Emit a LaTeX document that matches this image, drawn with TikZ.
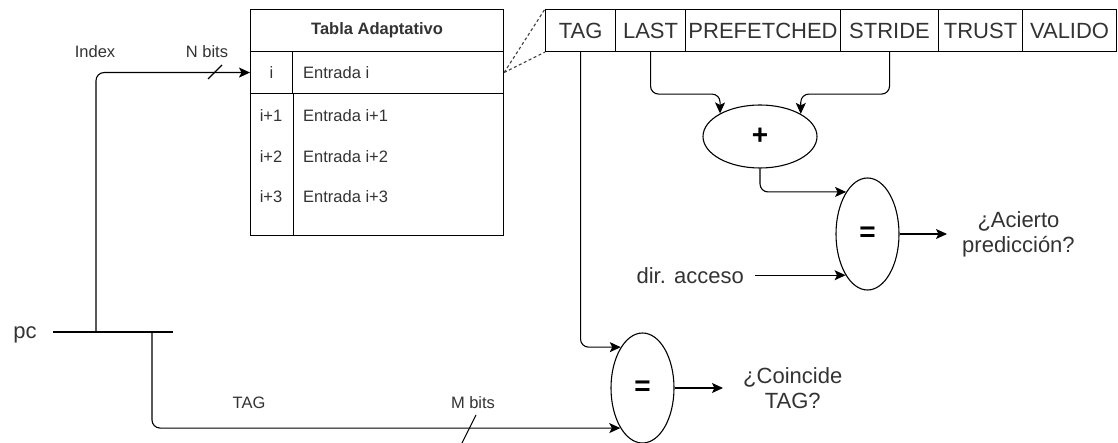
\documentclass[tikz,border=0pt]{standalone}
\usepackage{fontspec}
\setmainfont{Liberation Sans}
\usetikzlibrary{shapes.geometric,arrows.meta,calc}
\definecolor{txt}{HTML}{333333}
\newcommand\bigfont{\fontsize{22}{25}\selectfont}
\newcommand\smallfont{\fontsize{16.5}{19}\selectfont}
\begin{document}
\begin{tikzpicture}[x=1pt,y=-1pt,
  ln/.style={line width=1.1pt,draw=black},
  arr/.style={ln,-{Stealth[length=11pt,width=10pt,inset=2.5pt]}},
  rnd/.style={rounded corners=8pt},
  cell/.style={ln,anchor=north west,inner sep=0pt,minimum height=42pt,text=txt},
  field/.style={cell,font=\bigfont},
  lbl/.style={text=txt,font=\smallfont,inner sep=0pt},
  biglbl/.style={text=txt,font=\bigfont,inner sep=0pt,align=center},
  oper/.style={ellipse,ln,inner sep=0pt,text=black,font=\fontsize{28}{28}\bfseries\selectfont},
  dashline/.style={line width=1.1pt,draw=black!75,dash pattern=on 3pt off 2.5pt}
]
\fill[white] (0,0) rectangle (1118,443);
\useasboundingbox (0,0) rectangle (1118,443);

% ---- Tabla Adaptativo ----
\node[cell,minimum width=253pt,font=\bfseries\smallfont] (hdr) at (250,9) {Tabla Adaptativo};
\node[cell,minimum width=42pt,font=\smallfont] (idxi) at (250,51) {i};
\node[cell,minimum width=211pt] (enti) at (292,51) {};
\node[cell,minimum width=253pt,minimum height=142pt] (body) at (250,93) {};
\draw[ln] (idxi.south east) -- (idxi.south east |- body.south);
\node[lbl,anchor=west] (tenti) at (303,73) {Entrada i};
\node[lbl] (i1) at (271,116) {i+1};
\node[lbl] (i2) at (271,157) {i+2};
\node[lbl] (i3) at (271,197) {i+3};
\node[lbl,anchor=west] (e1) at (303,116) {Entrada i+1};
\node[lbl,anchor=west] (e2) at (303,157) {Entrada i+2};
\node[lbl,anchor=west] (e3) at (303,197) {Entrada i+3};

% ---- record fields ----
\node[field,minimum width=70pt] (tagf) at (545,9) {TAG};
\node[field,minimum width=70pt] (lastf) at (615,9) {LAST};
\node[field,minimum width=155pt] (pref) at (685,9) {PREFETCHED};
\node[field,minimum width=98pt] (strf) at (840,9) {STRIDE};
\node[field,minimum width=84pt] (trustf) at (938,9) {TRUST};
\node[field,minimum width=94pt] (validf) at (1022,9) {VALIDO};

\draw[dashline] (enti.east) -- (tagf.north west);
\draw[dashline] (enti.east) -- (tagf.south west);

% ---- operators ----
\node[oper,minimum width=114pt,minimum height=63pt] (plus) at (760,136.5) {+};
\node[oper,minimum width=63pt,minimum height=112pt] (eqA) at (867.5,234) {=};
\node[oper,minimum width=63pt,minimum height=110pt] (eqB) at (642.5,388) {=};

% ---- texts ----
\node[biglbl,anchor=east,inner xsep=11pt] (dir) at (755,276) {dir. acceso};
\node[biglbl,anchor=west,inner xsep=15pt] (acierto) at (947,234) {¿Acierto\\predicción?};
\node[biglbl,anchor=west,inner xsep=20pt] (coinc) at (723,388) {¿Coincide\\TAG?};
\node[biglbl] (pc) at (25,335) {pc};
\node[lbl] (index) at (95,52) {Index};
\node[lbl] (nbits) at (207,52) {N bits};
\node[lbl] (taglbl) at (249,403) {TAG};
\node[lbl] (mbits) at (473,403) {M bits};

% ---- pc bar ----
\coordinate (pcl) at (53,332);
\coordinate (pcr) at (173,332);
\coordinate (j1) at (96,332);
\coordinate (j2) at (152,332);
\draw[ln] (pcl) -- (pcr);

% ---- connectors ----
\draw[arr,rnd] (j1) |- (idxi.west);
\draw[ln] (208,79) -- (222,65);
\draw[arr,rnd] (j2) |- (eqB.241.6);
\draw[ln] (476,415) -- (460,447);

\draw[arr,rnd] (tagf.south) |- (eqB.118.4);
\draw[arr,rnd] (lastf.south) -- ++(0,42) -| (plus.150.7);
\draw[arr,rnd] (strf.south) -- ++(0,42) -| (plus.29.3);
\draw[arr,rnd] (plus.south) |- (eqA.117.6);
\draw[arr] (dir.east |- eqA.242.4) -- (eqA.242.4);
\draw[arr] (eqA.east) -- (acierto.west);
\draw[arr] (eqB.east) -- (coinc.west);
\end{tikzpicture}
\end{document}
